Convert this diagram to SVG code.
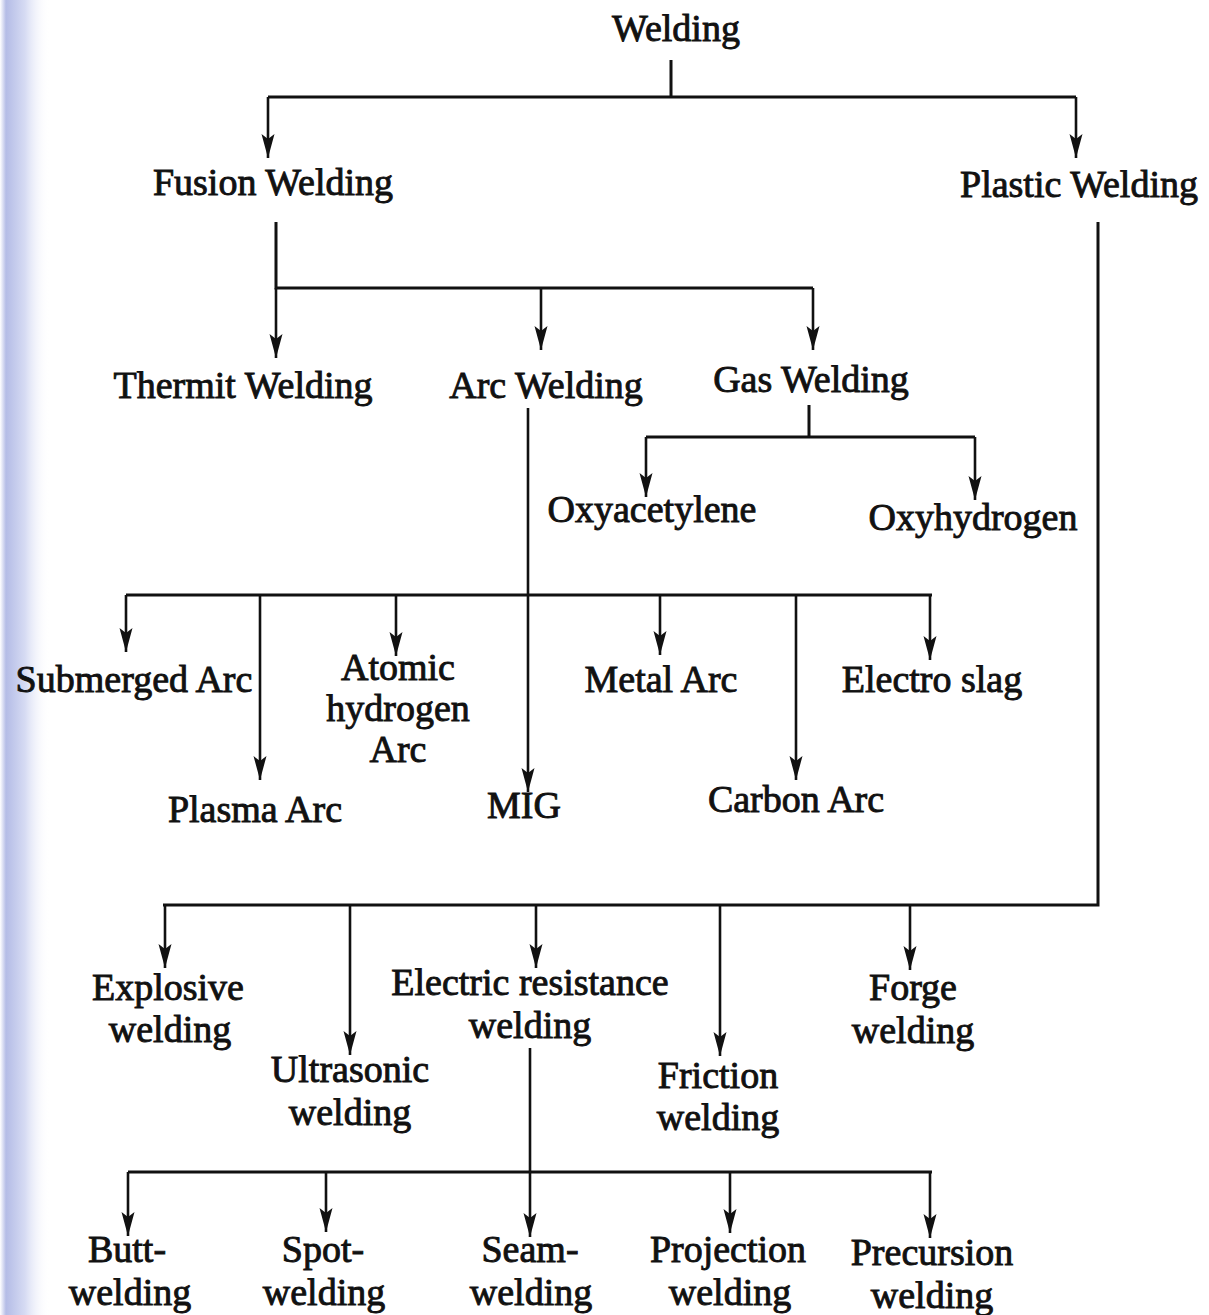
<svg xmlns="http://www.w3.org/2000/svg" width="1209" height="1315" viewBox="0 0 1209 1315">
<defs>
<style>
.t{font-family:"Liberation Serif","Times New Roman",serif;font-size:38px;fill:#111;stroke:#111;stroke-width:0.9;text-anchor:middle}
.c{fill:none;stroke:#111;stroke-width:3}
.a{fill:none;stroke:#111;stroke-width:2.6;marker-end:url(#arr)}
</style>
<marker id="arr" markerUnits="userSpaceOnUse" markerWidth="28" markerHeight="16" refX="24" refY="0" viewBox="0 -8 28 16" orient="auto">
<path d="M0,-6.5 L24,0 L0,6.5 L5,0 z" fill="#111"/>
</marker>
<linearGradient id="edge" x1="0" y1="0" x2="1" y2="0">
<stop offset="0" stop-color="#ffffff"/>
<stop offset="0.12" stop-color="#b4bce6"/>
<stop offset="0.5" stop-color="#d6dbf3"/>
<stop offset="1" stop-color="#ffffff" stop-opacity="0"/>
</linearGradient>
</defs>
<rect width="1209" height="1315" fill="#fff"/>
<rect x="0" y="0" width="50" height="1315" fill="url(#edge)"/>

<g id="connectors">
<path class="c" d="M671,60 V97 M268,97 H1076"/>
<path class="a" d="M268,97 V158"/>
<path class="a" d="M1076,97 V158"/>
<path class="c" d="M276,222 V288 H813"/>
<path class="a" d="M276,288 V358"/>
<path class="a" d="M541,288 V350"/>
<path class="a" d="M813,288 V350"/>
<path class="c" d="M809,405 V437 M646,437 H975"/>
<path class="a" d="M646,437 V497"/>
<path class="a" d="M975,437 V500"/>
<path class="c" d="M126,595 H932"/>
<path class="a" d="M528,408 V792"/>
<path class="a" d="M126,595 V652"/>
<path class="a" d="M260,595 V780"/>
<path class="a" d="M396,595 V656"/>
<path class="a" d="M660,595 V655"/>
<path class="a" d="M796,595 V780"/>
<path class="a" d="M930,595 V660"/>
<path class="c" d="M1098,222 V905 H163"/>
<path class="a" d="M165,905 V968"/>
<path class="a" d="M350,905 V1055"/>
<path class="a" d="M536,905 V968"/>
<path class="a" d="M720,905 V1056"/>
<path class="a" d="M910,905 V970"/>
<path class="c" d="M128,1172 H932"/>
<path class="a" d="M530,1048 V1237"/>
<path class="a" d="M128,1172 V1236"/>
<path class="a" d="M326,1172 V1232"/>
<path class="a" d="M730,1172 V1233"/>
<path class="a" d="M930,1172 V1238"/>
</g>

<g id="welding"><text class="t" x="676" y="41">Welding</text></g>
<g id="fusion"><text class="t" x="273" y="195">Fusion Welding</text></g>
<g id="plastic"><text class="t" x="1079" y="197">Plastic Welding</text></g>
<g id="thermit"><text class="t" x="243" y="398">Thermit Welding</text></g>
<g id="arc"><text class="t" x="546" y="398">Arc Welding</text></g>
<g id="gas"><text class="t" x="811" y="392">Gas Welding</text></g>
<g id="oxyacetylene"><text class="t" x="652" y="522">Oxyacetylene</text></g>
<g id="oxyhydrogen"><text class="t" x="973" y="530">Oxyhydrogen</text></g>
<g id="submerged"><text class="t" x="134" y="692">Submerged Arc</text></g>
<g id="atomic"><text class="t" x="398" y="680">Atomic</text><text class="t" x="398" y="721">hydrogen</text><text class="t" x="398" y="762">Arc</text></g>
<g id="metal"><text class="t" x="661" y="692">Metal Arc</text></g>
<g id="electroslag"><text class="t" x="932" y="692">Electro slag</text></g>
<g id="plasma"><text class="t" x="255" y="822">Plasma Arc</text></g>
<g id="mig"><text class="t" x="524" y="818">MIG</text></g>
<g id="carbon"><text class="t" x="796" y="812">Carbon Arc</text></g>
<g id="explosive"><text class="t" x="168" y="1000">Explosive</text><text class="t" x="170" y="1042">welding</text></g>
<g id="electric"><text class="t" x="530" y="995">Electric resistance</text><text class="t" x="530" y="1038">welding</text></g>
<g id="forge"><text class="t" x="913" y="1000">Forge</text><text class="t" x="913" y="1043">welding</text></g>
<g id="ultrasonic"><text class="t" x="350" y="1082">Ultrasonic</text><text class="t" x="350" y="1125">welding</text></g>
<g id="friction"><text class="t" x="718" y="1088">Friction</text><text class="t" x="718" y="1130">welding</text></g>
<g id="butt"><text class="t" x="127" y="1262">Butt-</text><text class="t" x="130" y="1305">welding</text></g>
<g id="spot"><text class="t" x="323" y="1262">Spot-</text><text class="t" x="324" y="1305">welding</text></g>
<g id="seam"><text class="t" x="530" y="1262">Seam-</text><text class="t" x="531" y="1305">welding</text></g>
<g id="projection"><text class="t" x="728" y="1262">Projection</text><text class="t" x="730" y="1305">welding</text></g>
<g id="precursion"><text class="t" x="932" y="1265">Precursion</text><text class="t" x="932" y="1308">welding</text></g>
</svg>
